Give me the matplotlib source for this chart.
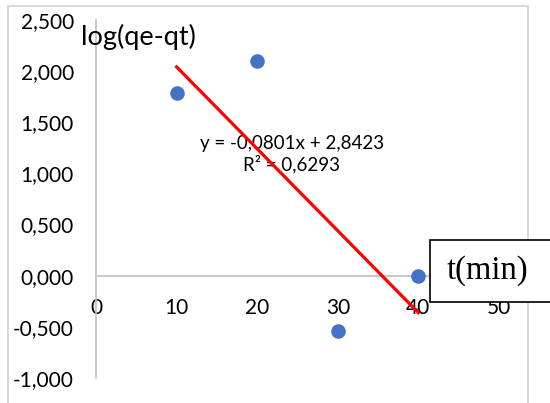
import numpy as np
import matplotlib.pyplot as plt
from matplotlib.ticker import FuncFormatter, MultipleLocator
from matplotlib.patches import Rectangle
from matplotlib.lines import Line2D

t_min = [10, 20, 30, 40]
log_q = [1.79, 2.10, -0.54, 0.0]

slope = -0.0801
intercept = 2.8423
r2 = 0.6293

plt.rcParams['font.family'] = ['Lato', 'DejaVu Sans']

fig = plt.figure(figsize=(5.5, 4.03), dpi=100)
W, H = 550, 403
ax = fig.add_axes([96 / W, 1 - 378 / H, (499 - 96) / W, (378 - 20) / H])

ax.scatter(t_min, log_q, s=110, color="#4472C4", zorder=3, linewidths=0)

xs = np.array([t_min[0], t_min[-1]])
ax.plot(xs, slope * xs + intercept, color="#FF0000", lw=2.3, zorder=4)

ax.set_xlim(0, 50)
ax.set_ylim(-1, 2.5)
ax.xaxis.set_major_locator(MultipleLocator(10))
ax.yaxis.set_major_locator(MultipleLocator(0.5))
ax.yaxis.set_major_formatter(FuncFormatter(lambda v, p: f"{v:.3f}".replace(".", ",")))
ax.xaxis.set_major_formatter(FuncFormatter(lambda v, p: f"{v:.0f}"))

for s in ["top", "right"]:
    ax.spines[s].set_visible(False)
ax.spines["left"].set_position(("data", 0))
ax.spines["bottom"].set_position(("data", 0))
for s in ["left", "bottom"]:
    ax.spines[s].set_color("#BFBFBF")
    ax.spines[s].set_linewidth(1.2)
ax.tick_params(axis="y", length=0, pad=16, labelsize=15)
ax.tick_params(axis="x", length=0, pad=16, labelsize=15)

ax.text(-1.9, 2.33, "log(qe-qt)", fontsize=19.5, ha="left", va="center")
ax.text(24.3, 1.19, "y = -0,0801x + 2,8423\nR² = 0,6293", fontsize=13.5,
        ha="center", va="center", linespacing=1.2)

# chart frame
frame = dict(color="#D9D9D9", lw=1.5, transform=fig.transFigure)
fig.add_artist(Line2D([7.5 / W, 7.5 / W], [0, 1 - 6 / H], **frame))
fig.add_artist(Line2D([7.5 / W, 528 / W], [1 - 6 / H, 1 - 6 / H], **frame))
fig.add_artist(Line2D([528 / W, 528 / W], [0, 1 - 6 / H], **frame))

# axis title box
fig.add_artist(Rectangle((430 / W, 1 - 302 / H), 130 / W, 62 / H,
                         transform=fig.transFigure, facecolor="white",
                         edgecolor="black", lw=1.2, zorder=5))
fig.text(487 / W, 1 - 271 / H, "t(min)", family="Liberation Serif", fontsize=23.5,
         ha="center", va="center", zorder=6)

fig.savefig("out.png", dpi=100)
